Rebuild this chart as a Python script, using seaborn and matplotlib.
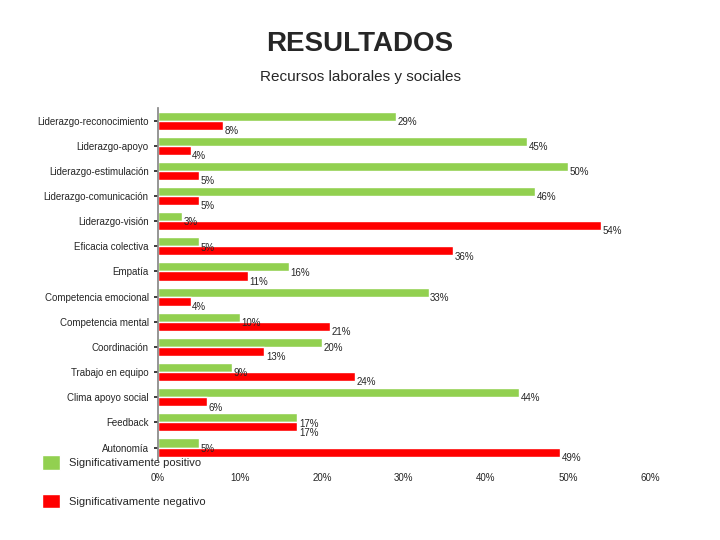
import pandas as pd
import matplotlib.pyplot as plt
import seaborn as sns

sns.set_theme(style="white")
plt.rcParams['font.family'] = ['Liberation Sans', 'DejaVu Sans']

categorias = ["Liderazgo-reconocimiento", "Liderazgo-apoyo", "Liderazgo-estimulación",
              "Liderazgo-comunicación", "Liderazgo-visión", "Eficacia colectiva", "Empatía",
              "Competencia emocional", "Competencia mental", "Coordinación", "Trabajo en equipo",
              "Clima apoyo social", "Feedback", "Autonomía"]
positivo = [29, 45, 50, 46, 3, 5, 16, 33, 10, 20, 9, 44, 17, 5]
negativo = [8, 4, 5, 5, 54, 36, 11, 4, 21, 13, 24, 6, 17, 49]
series = ["Significativamente positivo", "Significativamente negativo"]

df = pd.DataFrame({
    "cat": categorias * 2,
    "val": positivo + negativo,
    "serie": [series[0]] * len(categorias) + [series[1]] * len(categorias),
})

fig = plt.figure(figsize=(7.2, 5.4), dpi=100)
ax = fig.add_axes([0.219, 0.148, 0.684, 0.652])
sns.barplot(data=df, y="cat", x="val", hue="serie", orient="h",
            palette=["#92D050", "#FF0000"], width=0.72, ax=ax, saturation=1)

for cont in ax.containers:
    for bar in cont:
        w = bar.get_width()
        y = bar.get_y() + bar.get_height()
        ax.text(w + 0.2, y + 0.05, f"{w:.0f}%", fontsize=7, va="center", ha="left")

ax.set_xlim(0, 60)
ax.set_xticks(range(0, 61, 10))
ax.set_xticklabels([f"{t}%" for t in range(0, 61, 10)], fontsize=7)
ax.tick_params(axis="y", labelsize=7, length=3, left=True)
ax.set_xlabel("")
ax.set_ylabel("")
for s in ["top", "right", "bottom"]:
    ax.spines[s].set_visible(False)
ax.spines["left"].set_color("#888888")

h, l = ax.get_legend_handles_labels()
ax.get_legend().remove()
fig.legend(h, l, loc="lower left", bbox_to_anchor=(0.045, 0.04), frameon=False,
           fontsize=8, handlelength=1.6, handleheight=1.6, labelspacing=2.2)

fig.text(0.5, 0.905, "RESULTADOS", ha="center", fontsize=20, fontweight="bold")
fig.text(0.5, 0.85, "Recursos laborales y sociales", ha="center", fontsize=11)

fig.savefig("out.png")
